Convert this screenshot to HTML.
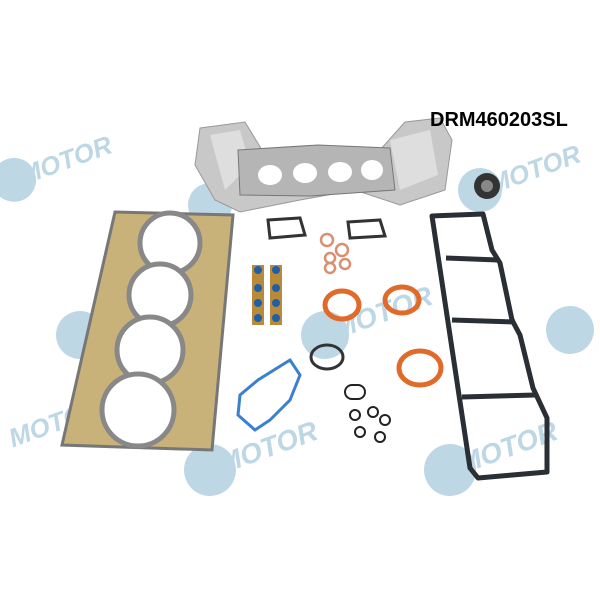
<!DOCTYPE html>
<html><head><style>
html,body{margin:0;padding:0;background:#fff;width:600px;height:600px;overflow:hidden}
svg{display:block}
.wm{font-family:"Liberation Sans",sans-serif;font-weight:bold;font-style:italic;fill:#6fa5c6;opacity:.45}
</style></head><body>
<svg width="600" height="600" viewBox="0 0 600 600">
<g class="wm">
<g transform="translate(0,185) rotate(-20)"><circle cx="15" cy="0" r="22"/><text x="22" y="8" font-size="26">MOTOR</text></g>
<g transform="translate(210,205) rotate(-20)"><circle cx="0" cy="0" r="22"/><text x="10" y="8" font-size="26">MOTOR</text></g>
<g transform="translate(480,190) rotate(-20)"><circle cx="0" cy="0" r="22"/><text x="10" y="8" font-size="26">MOTOR</text></g>
<g transform="translate(80,335) rotate(-20)"><circle cx="0" cy="0" r="24"/><text x="10" y="8" font-size="28">MOTOR</text></g>
<g transform="translate(325,335) rotate(-20)"><circle cx="0" cy="0" r="24"/><text x="10" y="8" font-size="28">MOTOR</text></g>
<g transform="translate(570,330) rotate(-20)"><circle cx="0" cy="0" r="24"/></g>
<g transform="translate(10,440) rotate(-20)"><text x="0" y="8" font-size="26">MOTOR</text></g>
<g transform="translate(210,470) rotate(-20)"><circle cx="0" cy="0" r="26"/><text x="10" y="8" font-size="28">MOTOR</text></g>
<g transform="translate(450,470) rotate(-20)"><circle cx="0" cy="0" r="26"/><text x="10" y="8" font-size="28">MOTOR</text></g>
</g>
<path d="M200,128 L245,122 L262,150 L300,158 L380,150 L405,122 L440,118 L452,140 L445,190 L400,205 L355,190 L300,200 L240,212 L215,200 L195,165 Z" fill="#c8c8c8" stroke="#999" stroke-width="1"/>
<path d="M210,135 L240,130 L250,165 L225,190 Z" fill="#dedede"/>
<path d="M390,140 L430,130 L438,175 L400,190 Z" fill="#dedede"/>
<path d="M238,150 L318,145 L390,148 L395,190 L310,196 L240,195 Z" fill="#b5b5b5" stroke="#777"/>
<ellipse cx="270" cy="175" rx="12" ry="10" fill="#fff"/><ellipse cx="305" cy="173" rx="12" ry="10" fill="#fff"/><ellipse cx="340" cy="172" rx="12" ry="10" fill="#fff"/><ellipse cx="372" cy="170" rx="11" ry="10" fill="#fff"/>
<text x="430" y="126" font-family="Liberation Sans,sans-serif" font-weight="bold" font-size="20" fill="#000">DRM460203SL</text>
<circle cx="487" cy="186" r="13" fill="#333"/><circle cx="487" cy="186" r="6" fill="#888"/>
<path d="M115,212 L233,215 L212,450 L62,445 Z" fill="#c9b27a" stroke="#777" stroke-width="3"/>
<g fill="#fff" stroke="#888" stroke-width="5">
<circle cx="170" cy="243" r="30"/><circle cx="160" cy="295" r="31"/><circle cx="150" cy="350" r="33"/><circle cx="138" cy="410" r="36"/>
</g>
<g fill="none" stroke="#333" stroke-width="3">
<path d="M268,220 L300,218 L305,235 L270,238 Z"/>
<path d="M348,222 L380,220 L385,236 L350,238 Z"/>
</g>
<g fill="none" stroke="#d89070" stroke-width="2.5">
<circle cx="327" cy="240" r="6"/><circle cx="342" cy="250" r="6"/><circle cx="330" cy="258" r="5"/><circle cx="345" cy="264" r="5"/><circle cx="330" cy="268" r="5"/>
</g>
<g fill="#b88a3a"><rect x="252" y="265" width="12" height="60"/><rect x="270" y="265" width="12" height="60"/></g>
<g fill="#1f5fa8"><circle cx="258" cy="270" r="4"/><circle cx="276" cy="270" r="4"/><circle cx="258" cy="288" r="4"/><circle cx="276" cy="288" r="4"/><circle cx="258" cy="303" r="4"/><circle cx="276" cy="303" r="4"/><circle cx="258" cy="318" r="4"/><circle cx="276" cy="318" r="4"/></g>
<g fill="none" stroke="#e06a2a" stroke-width="5">
<ellipse cx="342" cy="305" rx="17" ry="14"/><ellipse cx="402" cy="300" rx="17" ry="13"/><ellipse cx="420" cy="368" rx="21" ry="17"/>
</g>
<ellipse cx="327" cy="357" rx="16" ry="12" fill="none" stroke="#333" stroke-width="3"/>
<path d="M240,395 L258,380 L290,360 L300,375 L290,400 L270,420 L255,430 L238,415 Z" fill="none" stroke="#3b7fd0" stroke-width="3"/>
<g fill="none" stroke="#222" stroke-width="2"><rect x="345" y="385" width="20" height="14" rx="7"/><circle cx="355" cy="415" r="5"/><circle cx="373" cy="412" r="5"/><circle cx="385" cy="420" r="5"/><circle cx="360" cy="432" r="5"/><circle cx="380" cy="437" r="5"/></g>
<g fill="none" stroke="#2a2e35" stroke-width="5" stroke-linejoin="round">
<path d="M432,216 L483,214 L492,250 L500,263 L512,320 L520,335 L533,388 L547,418 L547,472 L478,478 L470,468 Z"/>
<path d="M446,258 L498,260"/>
<path d="M452,320 L515,322"/>
<path d="M462,397 L535,395"/>
</g>
</svg>
</body></html>
